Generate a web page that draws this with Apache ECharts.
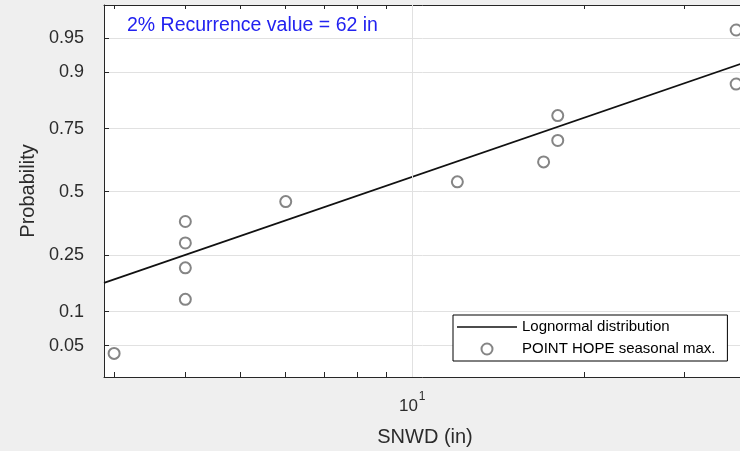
<!DOCTYPE html>
<html>
<head>
<meta charset="utf-8">
<script src="https://cdn.jsdelivr.net/npm/echarts@6/dist/echarts.min.js"></script>
<style>
html,body{margin:0;padding:0;background:#efefef;}
#c{width:740px;height:451px;}
</style>
</head>
<body>
<div id="c"></div>
<script>
// ---- data ----
var snwd = [3, 4, 4, 4, 4, 6, 12, 17, 18, 18, 37, 37];            // SNWD (in)
var prob = [0.042, 0.125, 0.208, 0.292, 0.375, 0.458, 0.542, 0.625, 0.708, 0.792, 0.875, 0.958];
var fitX = [2.88, 38.5];          // lognormal fit line end points (in)
var fitP = [0.165, 0.917];        // probability at those points
var probTicks = [0.05, 0.1, 0.25, 0.5, 0.75, 0.9, 0.95];
var probTickLabels = ['0.05', '0.1', '0.25', '0.5', '0.75', '0.9', '0.95'];
var xMinorTicks = [3, 4, 5, 6, 7, 8, 9, 10, 20, 30];
var xLabelTicks = [10];
var xRange = [2.88, 38.5];
var zRange = [-1.98, 1.995];
var titleText = '2% Recurrence value = 62 in';
var seriesNames = ['Lognormal distribution', 'POINT HOPE seasonal max.'];

// inverse standard normal CDF (Acklam) – probability-paper scale
function probit(p) {
  var a = [-3.969683028665376e+01, 2.209460984245205e+02, -2.759285104469687e+02, 1.383577518672690e+02, -3.066479806614716e+01, 2.506628277459239e+00];
  var b = [-5.447609879822406e+01, 1.615858368580409e+02, -1.556989798598866e+02, 6.680131188771972e+01, -1.328068155288572e+01];
  var c = [-7.784894002430293e-03, -3.223964580411365e-01, -2.400758277161838e+00, -2.549732539343734e+00, 4.374664141464968e+00, 2.938163982698783e+00];
  var d = [7.784695709041462e-03, 3.224671290700398e-01, 2.445134137142996e+00, 3.754408661907416e+00];
  var pl = 0.02425, q, r;
  if (p < pl) { q = Math.sqrt(-2 * Math.log(p));
    return (((((c[0]*q+c[1])*q+c[2])*q+c[3])*q+c[4])*q+c[5]) / ((((d[0]*q+d[1])*q+d[2])*q+d[3])*q+1); }
  if (p > 1 - pl) { q = Math.sqrt(-2 * Math.log(1 - p));
    return -(((((c[0]*q+c[1])*q+c[2])*q+c[3])*q+c[4])*q+c[5]) / ((((d[0]*q+d[1])*q+d[2])*q+d[3])*q+1); }
  q = p - 0.5; r = q * q;
  return (((((a[0]*r+a[1])*r+a[2])*r+a[3])*r+a[4])*r+a[5])*q / (((((b[0]*r+b[1])*r+b[2])*r+b[3])*r+b[4])*r+1);
}
var lg = Math.log10;

var scatterData = snwd.map(function (v, i) { return [lg(v), probit(prob[i])]; });
var fitData = fitX.map(function (v, i) { return [lg(v), probit(fitP[i])]; });
var yTickVals = probTicks.map(probit);

var font = 'Liberation Sans, Arial, Helvetica, sans-serif';
var txt = '#2b2b2b';

var chart = echarts.init(document.getElementById('c'), null, {renderer: 'canvas'});
chart.setOption({
  backgroundColor: '#efefef',
  animation: false,
  textStyle: {fontFamily: font},
  title: {
    text: titleText, left: 122, top: 11,
    textStyle: {color: '#2222f0', fontSize: 19.5, fontWeight: 'normal', fontFamily: font}
  },
  grid: {left: 104, top: 5, width: 642, bottom: 74, show: true, backgroundColor: '#ffffff', borderWidth: 0,
         containLabel: false, outerBoundsMode: 'none'},
  legend: {
    orient: 'vertical', left: 453, top: 315,
    data: [
      {name: seriesNames[0], icon: 'path://M0,0 L60,0 L60,1.6 L0,1.6 Z'},
      {name: seriesNames[1]}
    ],
    itemWidth: 60, itemHeight: 11, itemGap: 6,
    padding: [4, 12, 4, 4],
    backgroundColor: '#ffffff', borderColor: '#000', borderWidth: 1, borderRadius: 0,
    textStyle: {fontSize: 15, color: '#000', lineHeight: 16, fontFamily: font},
    selectedMode: false
  },
  xAxis: [{
    type: 'value', position: 'bottom', min: lg(xRange[0]), max: lg(xRange[1]),
    name: 'SNWD (in)', nameLocation: 'middle', nameGap: 50,
    nameTextStyle: {fontSize: 20, color: txt, fontFamily: font},
    axisLine: {show: true, onZero: false, lineStyle: {color: '#262626', width: 1}},
    axisTick: {show: true, inside: true, length: 5, customValues: xMinorTicks.map(lg), lineStyle: {color: '#262626'}},
    axisLabel: {
      show: true, margin: 14, customValues: xLabelTicks.map(lg),
      formatter: function (v) { return '{b|10}{s|' + Math.round(v) + '}'; },
      rich: {
        b: {fontSize: 17, color: txt, fontFamily: font, lineHeight: 24, verticalAlign: 'bottom'},
        s: {fontSize: 12, color: txt, fontFamily: font, lineHeight: 24, verticalAlign: 'top', padding: [0, 0, 10, 1]}
      }
    },
    splitLine: {show: false}
  }, {
    type: 'value', position: 'top', min: lg(xRange[0]), max: lg(xRange[1]),
    axisLine: {show: true, onZero: false, lineStyle: {color: '#262626', width: 1}},
    axisTick: {show: true, inside: true, length: 4, customValues: xMinorTicks.map(lg), lineStyle: {color: '#262626'}},
    axisLabel: {show: false},
    splitLine: {show: false}
  }],
  yAxis: [{
    type: 'value', min: zRange[0], max: zRange[1],
    name: 'Probability', nameLocation: 'middle', nameGap: 66,
    nameTextStyle: {fontSize: 20, color: txt, fontFamily: font},
    axisLine: {show: true, onZero: false, lineStyle: {color: '#262626', width: 1}},
    axisTick: {show: true, inside: true, length: 5, customValues: yTickVals, lineStyle: {color: '#262626'}},
    axisLabel: {
      show: true, margin: 20, customValues: yTickVals, fontSize: 18, color: txt, fontFamily: font,
      formatter: function (v) {
        var best = 0, bd = 1e9;
        yTickVals.forEach(function (t, i) { var dd = Math.abs(t - v); if (dd < bd) { bd = dd; best = i; } });
        return probTickLabels[best];
      }
    },
    splitLine: {show: true, lineStyle: {color: '#e1e1e1', width: 1}}
  }, {
    type: 'value', position: 'right', min: zRange[0], max: zRange[1],
    axisLine: {show: true, onZero: false, lineStyle: {color: '#262626', width: 1}},
    axisTick: {show: true, inside: true, length: 5, customValues: yTickVals, lineStyle: {color: '#262626'}},
    axisLabel: {show: false},
    splitLine: {show: false}
  }],
  series: [{
    name: 'grid10', type: 'line', data: [], z: 1, silent: true,
    markLine: {
      silent: true, symbol: 'none', label: {show: false},
      lineStyle: {color: '#e1e1e1', width: 1, type: 'solid'},
      data: [{xAxis: lg(10)}]
    }
  }, {
    name: seriesNames[0], type: 'line', data: fitData, z: 3,
    symbol: 'none', showSymbol: false,
    lineStyle: {color: '#111', width: 1.8},
    itemStyle: {color: '#111'}
  }, {
    name: seriesNames[1], type: 'scatter', data: scatterData, z: 4,
    symbol: 'emptyCircle', symbolSize: 11,
    itemStyle: {color: '#666', borderColor: '#666', borderWidth: 1.1}
  }]
});
</script>
</body>
</html>
